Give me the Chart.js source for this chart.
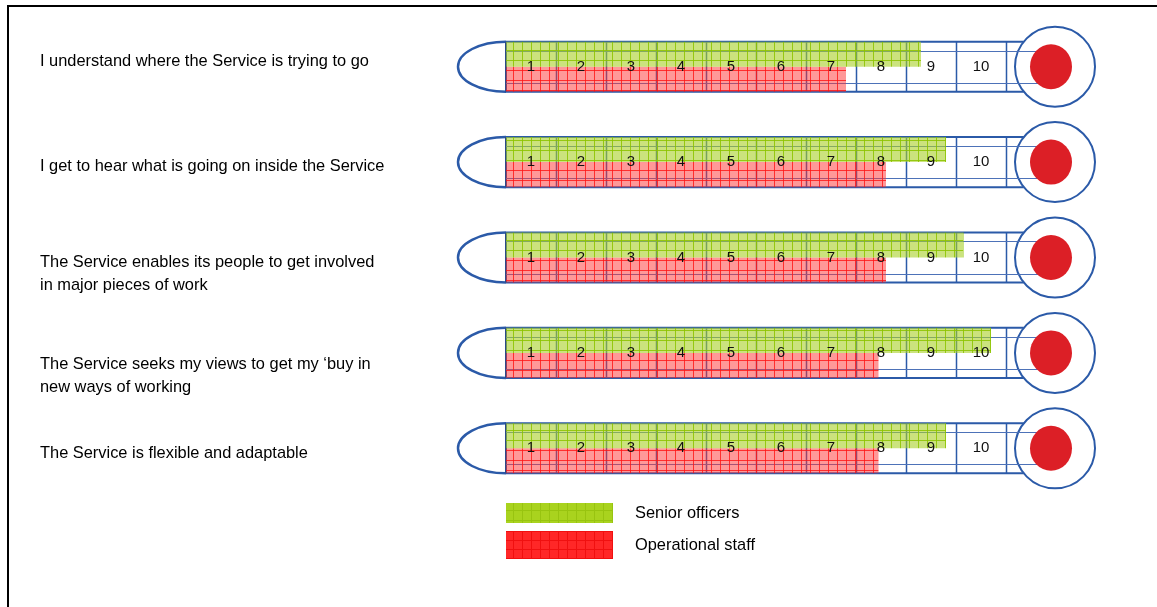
<!DOCTYPE html>
<html>
<head>
<meta charset="utf-8">
<title>Thermometer chart</title>
<script src="https://cdn.jsdelivr.net/npm/chart.js@4.4.0/dist/chart.umd.min.js"></script>
<style>
	html, body { margin: 0; padding: 0; background: #fff; }
	#chart { display: block; }
</style>
</head>
<body>
<canvas id="chart" width="1157" height="607"></canvas>
<script>
// statements shown on the left of each thermometer
var categories = [
	['I understand where the Service is trying to go'],
	['I get to hear what is going on inside the Service'],
	['The Service enables its people to get involved', 'in major pieces of work'],
	['The Service seeks my views to get my \u2018buy in', 'new ways of working'],
	['The Service is flexible and adaptable']
];
var seriesNames = ['Senior officers', 'Operational staff'];
var seniorValues = [8.3, 8.8, 9.15, 9.7, 8.8];
var operationalValues = [6.8, 7.6, 7.6, 7.45, 7.45];
var tickLabels = ['1', '2', '3', '4', '5', '6', '7', '8', '9', '10'];

var TUBE_BLUE = '#2b5aa8';
var BULB_RED = '#dc1f26';
var FONT = "'Liberation Sans', Arial, sans-serif";
// small vertical nudges for the statement text, the source is not quite centred
var LABEL_NUDGE = [-5, 4, 16, 23, 5];

function makePattern(fill, line, w, h) {
	var tile = document.createElement('canvas');
	tile.width = w;
	tile.height = h;
	var g = tile.getContext('2d');
	g.fillStyle = fill;
	g.fillRect(0, 0, w, h);
	g.fillStyle = line;
	g.fillRect(0, 0, 1, h);
	g.fillRect(0, 0, w, 1);
	return g.createPattern(tile, 'repeat');
}

var greenBar = makePattern('rgba(168,208,40,0.6)', 'rgba(140,195,0,0.85)', 9, 10);
var redBar = makePattern('rgba(255,50,50,0.5)', 'rgba(255,20,20,0.8)', 9, 10);
var greenKey = makePattern('#a9d31e', '#98c410', 9, 10);
var redKey = makePattern('#ff2727', '#f01010', 9, 9);

// draws the glass tube, scale cells and the bulb for every row
var thermometerPlugin = {
	id: 'thermometer',
	beforeDraw: function (chart) {
		var ctx = chart.ctx;
		ctx.save();
		// page frame
		ctx.fillStyle = '#000';
		ctx.fillRect(7, 5, chart.width - 7, 2);
		ctx.fillRect(7, 5, 2, chart.height - 5);
		ctx.restore();
	},
	beforeDatasetsDraw: function (chart) {
		var ctx = chart.ctx;
		var x = chart.scales.x;
		var y = chart.scales.y;
		var half = y.getPixelForValue(1) - y.getPixelForValue(0);
		half = half * chart.options.datasets.bar.categoryPercentage / 2;
		var x0 = x.getPixelForValue(0);
		var x10 = x.getPixelForValue(10);
		var bulbX = x10 + 49;
		var bulbR = 40;

		ctx.save();
		for (var i = 0; i < categories.length; i++) {
			var cy = y.getPixelForValue(i);
			var top = cy - half;
			var bottom = cy + half;
			var reach = bulbX - Math.sqrt(bulbR * bulbR - half * half);

			// rounded end on the left
			ctx.strokeStyle = TUBE_BLUE;
			ctx.lineWidth = 2.5;
			ctx.beginPath();
			ctx.ellipse(x0, cy, 48, half, 0, Math.PI / 2, Math.PI * 1.5);
			ctx.stroke();

			// tube outline
			ctx.lineWidth = 2;
			ctx.beginPath();
			ctx.moveTo(x0, top);
			ctx.lineTo(reach, top);
			ctx.moveTo(x0, bottom);
			ctx.lineTo(reach, bottom);
			ctx.stroke();

			ctx.strokeStyle = '#2a4a8a';
			ctx.beginPath();
			ctx.moveTo(x0, top);
			ctx.lineTo(x0, bottom);
			ctx.stroke();

			// scale cells
			ctx.strokeStyle = TUBE_BLUE;
			ctx.lineWidth = 1.5;
			ctx.beginPath();
			for (var k = 1; k <= tickLabels.length; k++) {
				var cx = Math.round(x.getPixelForValue(k)) + 0.5;
				ctx.moveTo(cx, top);
				ctx.lineTo(cx, bottom);
			}
			ctx.stroke();

			// bulb
			ctx.fillStyle = '#fff';
			ctx.strokeStyle = TUBE_BLUE;
			ctx.lineWidth = 2;
			ctx.beginPath();
			ctx.arc(bulbX, cy, bulbR, 0, Math.PI * 2);
			ctx.fill();
			ctx.stroke();

			// thin inner lines running into the bulb
			ctx.strokeStyle = '#4d72b8';
			ctx.lineWidth = 1;
			ctx.beginPath();
			ctx.moveTo(x0, Math.round(top + 9) + 0.5);
			ctx.lineTo(bulbX - 12, Math.round(top + 9) + 0.5);
			ctx.moveTo(x0, Math.round(bottom - 9) + 0.5);
			ctx.lineTo(bulbX - 12, Math.round(bottom - 9) + 0.5);
			ctx.stroke();

			ctx.fillStyle = BULB_RED;
			ctx.beginPath();
			ctx.ellipse(bulbX - 4, cy, 21, 22.5, 0, 0, Math.PI * 2);
			ctx.fill();
		}
		ctx.restore();
	},
	afterDatasetsDraw: function (chart) {
		var ctx = chart.ctx;
		var x = chart.scales.x;
		var y = chart.scales.y;
		ctx.save();
		ctx.textBaseline = 'middle';

		// cell numbers
		ctx.font = '15px ' + FONT;
		ctx.textAlign = 'center';
		ctx.fillStyle = '#111';
		for (var i = 0; i < categories.length; i++) {
			var cy = y.getPixelForValue(i);
			for (var k = 0; k < tickLabels.length; k++) {
				ctx.fillText(tickLabels[k], x.getPixelForValue(k + 0.5), cy);
			}
		}

		// statements
		ctx.font = '16.4px ' + FONT;
		ctx.textAlign = 'left';
		ctx.fillStyle = '#000';
		for (var j = 0; j < categories.length; j++) {
			var lines = categories[j];
			var base = y.getPixelForValue(j) + LABEL_NUDGE[j] - (lines.length - 1) * 11.5;
			for (var n = 0; n < lines.length; n++) {
				ctx.fillText(lines[n], 40, base + n * 23);
			}
		}

		// legend under the last thermometer
		var keyX = x.getPixelForValue(0);
		var keys = [
			{fill: greenKey, top: 503, h: 20, text: chart.data.datasets[0].label},
			{fill: redKey, top: 531, h: 28, text: chart.data.datasets[1].label}
		];
		keys.forEach(function (key) {
			ctx.fillStyle = key.fill;
			ctx.fillRect(keyX, key.top, 107, key.h);
			ctx.fillStyle = '#000';
			ctx.fillText(key.text, keyX + 129, key.top + key.h / 2);
		});
		ctx.restore();
	}
};

var chartConfig = {
	type: 'bar',
	data: {
		labels: categories,
		datasets: [{
			label: seriesNames[0],
			data: seniorValues,
			backgroundColor: greenBar,
			borderWidth: 0
		}, {
			label: seriesNames[1],
			data: operationalValues,
			backgroundColor: redBar,
			borderWidth: 0
		}]
	},
	options: {
		indexAxis: 'y',
		responsive: false,
		animation: false,
		devicePixelRatio: 1,
		layout: {
			padding: {left: 506, right: 151, top: 19, bottom: 111}
		},
		datasets: {
			bar: {categoryPercentage: 0.525, barPercentage: 1}
		},
		scales: {
			x: {display: false, min: 0, max: 10},
			y: {display: false}
		},
		plugins: {
			legend: {display: false},
			tooltip: {enabled: false}
		}
	},
	plugins: [thermometerPlugin]
};

window.thermoChart = new Chart(document.getElementById('chart').getContext('2d'), chartConfig);
</script>
</body>
</html>
